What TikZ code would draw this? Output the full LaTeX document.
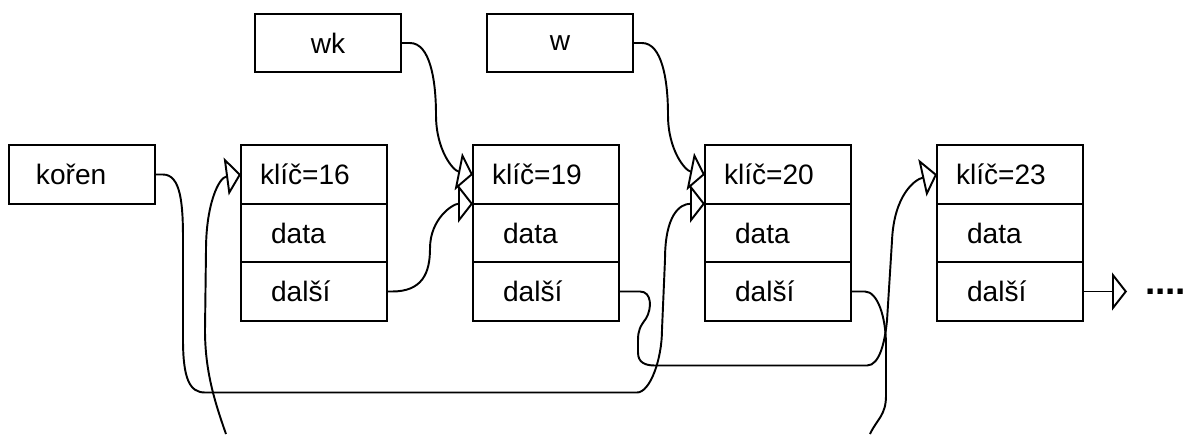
\documentclass[tikz,border=0pt]{standalone}
\usepackage{fontspec}
\setmainfont{Liberation Sans}
\usetikzlibrary{arrows.meta,positioning}
\begin{document}
\begin{tikzpicture}[
    >={Triangle[open,length=0.3cm,width=0.76cm]},
    font=\fontsize{16}{19}\selectfont,
    line width=1.1pt,
    node distance=1.72cm,
    ptr/.style={draw, minimum width=2.92cm, minimum height=1.17cm, inner sep=0pt, outer sep=0pt},
    root/.style={draw, align=left, text width=1.84cm, inner xsep=0.54cm, minimum height=1.17cm, outer sep=0pt},
    keyfield/.style={draw, align=left, text width=2.16cm, inner xsep=0.38cm, minimum height=1.17cm, outer sep=0pt},
    field/.style={draw, align=left, text width=1.72cm, inner xsep=0.6cm, minimum height=1.17cm, outer sep=0pt},
    tailtext/.style={font=\fontsize{21}{25}\selectfont\bfseries, inner sep=0pt, outer sep=0pt},
    link/.style={->}
]
\coordinate (sw) at (-1.64,-5.19);
\coordinate (ne) at (22.1,3.49);
\useasboundingbox (sw) rectangle (ne);
\node[root] (koren) at (0,0) {kořen};
\node[keyfield, right=of koren] (k16) {klíč=16};
\node[field, below=0pt of k16] (d16) {data};
\node[field, below=0pt of d16] (n16) {další};
\node[keyfield, right=of k16] (k19) {klíč=19};
\node[field, below=0pt of k19] (d19) {data};
\node[field, below=0pt of d19] (n19) {další};
\node[keyfield, right=of k19] (k20) {klíč=20};
\node[field, below=0pt of k20] (d20) {data};
\node[field, below=0pt of d20] (n20) {další};
\node[keyfield, right=of k20] (k23) {klíč=23};
\node[field, below=0pt of k23] (d23) {data};
\node[field, below=0pt of d23] (n23) {další};
\node[ptr, above left=1.46cm and 1.44cm of k19] (wk) {wk};
\node[ptr, above left=1.46cm and 1.44cm of k20] (w) {w};
\node[tailtext, right=1.24cm of n23] (tail) {....};
\coordinate (cut16) at ([xshift=-0.3cm]k16.west |- sw);
\coordinate (cut20) at ([xshift=0.38cm]n20.east |- sw);
\draw[link] (wk.east) -- ++(0.18,0) .. controls +(0.4,0) and +(0,0.7) .. ++(0.52,-1.44) .. controls +(0,-0.7) and +(-0.4,0.08) .. (k19.west);
\draw[link] (w.east) -- ++(0.18,0) .. controls +(0.4,0) and +(0,0.7) .. ++(0.52,-1.44) .. controls +(0,-0.7) and +(-0.4,0.08) .. (k20.west);
\draw[link] (n16.east) -- ++(0.1,0) .. controls +(0.6,0) and +(0,-0.5) .. ++(0.76,0.86) .. controls +(0,0.6) and +(-0.4,0) .. (k19.south west);
\draw[link] (koren.east) -- ++(0.16,0) .. controls +(0.36,0) and +(0,0.7) .. ++(0.4,-1.3) -- ++(0,-2.0) .. controls +(0,-0.8) and +(-0.3,0) .. ++(0.44,-1.06) -- ++(8.64,0) .. controls +(0.26,0) and +(0,-0.6) .. ++(0.5,1.26) -- ++(0.06,1.4) .. controls +(0,0.9) and +(-0.5,0) .. (k20.south west);
\draw[link] (n19.east) -- ++(0.42,0) .. controls +(0.24,0) and +(0.12,0.2) .. ++(0.12,-0.54) .. controls +(-0.12,-0.16) and +(0,0.2) .. ++(-0.16,-0.44) -- ++(0,-0.24) .. controls +(0,-0.2) and +(-0.2,0) .. ++(0.34,-0.26) -- ++(4.24,0) .. controls +(0.26,0) and +(-0.04,-0.4) .. ++(0.4,0.9) -- ++(0.1,1.6) .. controls +(0.04,0.9) and +(-0.45,-0.1) .. (k23.west);
\draw (n20.east) -- ++(0.28,0) .. controls +(0.24,0) and +(0,0.6) .. ++(0.42,-1.08) -- ++(0,-1.0) .. controls +(0,-0.4) and +(0.14,0.3) .. (cut20);
\draw[link] (cut16) .. controls +(-0.24,0.68) and +(0,-0.8) .. ++(-0.42,2.08) -- ++(0.02,1.6) .. controls +(0,0.9) and +(-0.45,-0.06) .. (k16.west);
\draw[link, shorten >=0.36cm] (n23.east) -- (tail.west);
\end{tikzpicture}
\end{document}
